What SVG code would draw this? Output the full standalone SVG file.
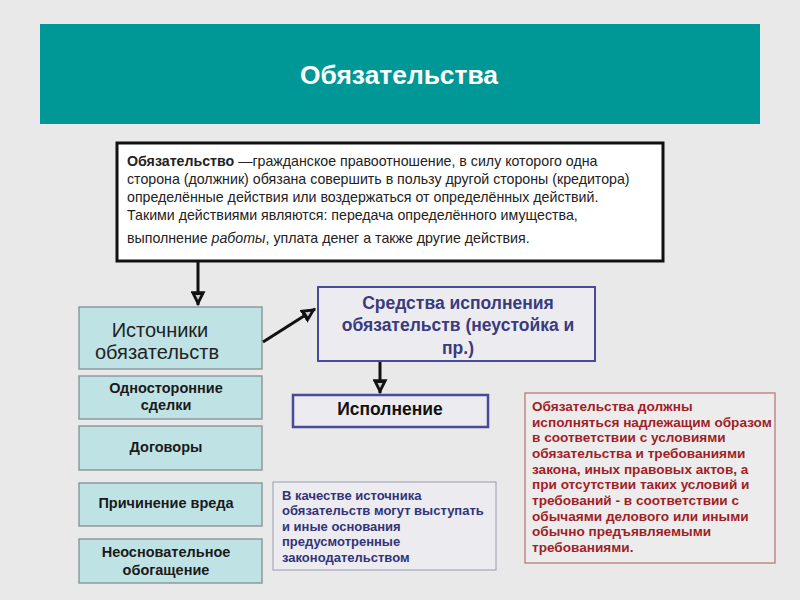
<svg xmlns="http://www.w3.org/2000/svg" width="800" height="600" viewBox="0 0 800 600">
<defs>
<style>
text{font-family:"Liberation Sans",Arial,sans-serif}
.def{font-size:14.2px;fill:#222}
.src{fill:#bfe3e5;stroke:#8a9a9c;stroke-width:1.5}
.srct{font-size:14.5px;font-weight:bold;fill:#1a1a1a;text-anchor:middle}
.blue{font-size:13px;font-weight:bold;fill:#33337a}
.red{font-size:13.6px;font-weight:bold;fill:#a01e28}
.mean{font-size:17.5px;font-weight:bold;fill:#3a3a7e;text-anchor:middle}
.conn{stroke:#111;stroke-width:3;fill:none}
</style>
<marker id="ah" viewBox="0 0 12 12" refX="11" refY="6" markerWidth="5" markerHeight="5" orient="auto" markerUnits="strokeWidth">
<path d="M0,0 L12,6 L0,12 Z" fill="#111"/>
<path d="M3,4 L7,6 L3,8 Z" fill="#ccc"/>
</marker>
</defs>
<rect width="800" height="600" fill="#e9e9e9"/>
<g id="title">
<rect x="40" y="24" width="720" height="100" fill="#009797"/>
<text x="300" y="84" font-size="26" font-weight="bold" fill="#fff" textLength="198" lengthAdjust="spacingAndGlyphs">Обязательства</text>
</g>
<g id="definition">
<rect x="117" y="143" width="546" height="118" fill="#fff" stroke="#111" stroke-width="3"/>
<text class="def" x="127" y="166"><tspan font-weight="bold">Обязательство</tspan> —гражданское правоотношение, в силу которого одна</text>
<text class="def" x="127" y="184">сторона (должник) обязана совершить в пользу другой стороны (кредитора)</text>
<text class="def" x="127" y="202">определённые действия или воздержаться от определённых действий.</text>
<text class="def" x="127" y="220">Такими действиями являются: передача определённого имущества,</text>
<text class="def" x="127" y="243">выполнение <tspan font-style="italic">работы</tspan>, уплата денег а также другие действия.</text>
</g>
<g id="sources">
<rect class="src" x="79" y="307" width="183" height="62"/>
<text x="160" y="337" font-size="20" fill="#222" text-anchor="middle">Источники</text>
<text x="157" y="359" font-size="20" fill="#222" text-anchor="middle">обязательств</text>
</g>
<g id="unilateral">
<rect class="src" x="79" y="376" width="183" height="43"/>
<text class="srct" x="166" y="393">Односторонние</text>
<text class="srct" x="166" y="410">сделки</text>
</g>
<g id="contracts">
<rect class="src" x="79" y="426" width="183" height="44"/>
<text class="srct" x="166" y="452">Договоры</text>
</g>
<g id="harm">
<rect class="src" x="79" y="483" width="183" height="43"/>
<text class="srct" x="166" y="508">Причинение вреда</text>
</g>
<g id="enrichment">
<rect class="src" x="79" y="539" width="183" height="44"/>
<text class="srct" x="166" y="557">Неосновательное</text>
<text class="srct" x="166" y="575">обогащение</text>
</g>
<g id="means">
<rect x="318" y="287" width="277" height="74" fill="#ececf0" stroke="#4a4a9a" stroke-width="2"/>
<text class="mean" x="458" y="309">Средства исполнения</text>
<text class="mean" x="458" y="331">обязательств (неустойка и</text>
<text class="mean" x="458" y="354">пр.)</text>
</g>
<g id="performance">
<rect x="293" y="395" width="195" height="32" fill="#ececf0" stroke="#4a4a9a" stroke-width="2.5"/>
<text x="390" y="415" font-size="17.5" font-weight="bold" fill="#111" text-anchor="middle">Исполнение</text>
</g>
<g id="note-blue">
<rect x="273" y="482" width="223" height="88" fill="#ececf0" stroke="#9a9ab0" stroke-width="1"/>
<text class="blue" x="282" y="500">В качестве источника</text>
<text class="blue" x="282" y="515">обязательств могут выступать</text>
<text class="blue" x="282" y="531">и иные основания</text>
<text class="blue" x="282" y="546">предусмотренные</text>
<text class="blue" x="282" y="562">законодательством</text>
</g>
<g id="note-red">
<rect x="525" y="393" width="250" height="170" fill="#ececec" stroke="#c08888" stroke-width="1.5"/>
<text class="red" x="532" y="411">Обязательства должны</text>
<text class="red" x="532" y="427">исполняться надлежащим образом</text>
<text class="red" x="532" y="442">в соответствии с условиями</text>
<text class="red" x="532" y="458">обязательства и требованиями</text>
<text class="red" x="532" y="474">закона, иных правовых актов, а</text>
<text class="red" x="532" y="489">при отсутствии таких условий и</text>
<text class="red" x="532" y="505">требований - в соответствии с</text>
<text class="red" x="532" y="521">обычаями делового или иными</text>
<text class="red" x="532" y="536">обычно предъявляемыми</text>
<text class="red" x="532" y="552">требованиями.</text>
</g>
<g id="connectors">
<line class="conn" x1="198" y1="262" x2="198" y2="305" marker-end="url(#ah)"/>
<line class="conn" x1="263" y1="342" x2="315" y2="309" marker-end="url(#ah)"/>
<line class="conn" x1="380" y1="362" x2="380" y2="393" marker-end="url(#ah)"/>
</g>
</svg>
